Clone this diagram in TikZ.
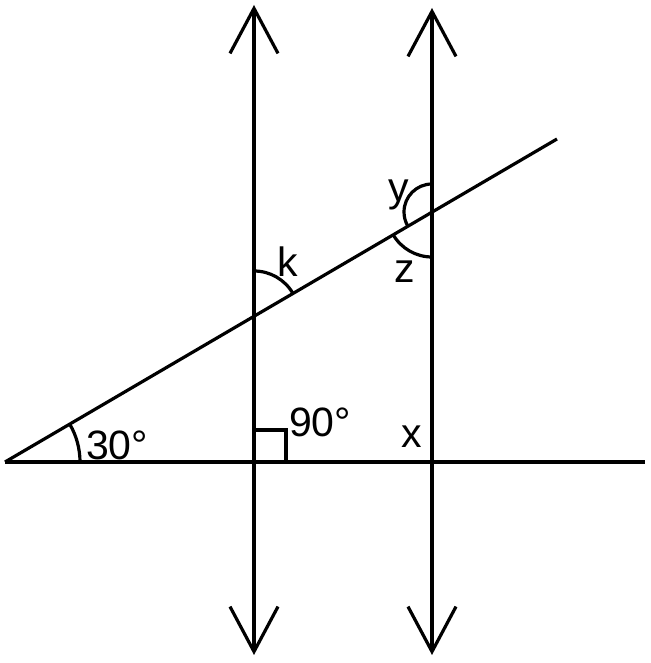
\documentclass[tikz,border=0pt]{standalone}
\usepackage{fontspec}
\setmainfont{Liberation Sans}
\usetikzlibrary{arrows.meta}

\begin{document}
\begin{tikzpicture}[x=0.5pt,y=0.5pt,
  line/.style={line width=1.6pt, black},
  arr/.style={line, {Straight Barb[length=22.5pt,width=24pt]}-{Straight Barb[length=22.5pt,width=24pt]}},
  lbl/.style={font=\fontsize{20.5}{23}\selectfont, inner sep=0pt}]
\useasboundingbox (0,0) rectangle (651,663);

\coordinate (O) at (5,201);
\coordinate (E) at (557,524);
\coordinate (H) at (645,201);
\coordinate (T1) at (254,658);
\coordinate (B1) at (254,8);
\coordinate (T2) at (432,655);
\coordinate (B2) at (432,8);
\coordinate (A) at (254,347);
\coordinate (B) at (432,451);
\coordinate (C) at (254,201);

\draw[line] (O) -- (H);
\draw[line] (O) -- (E);
\draw[arr] (B1) -- (T1);
\draw[arr] (B2) -- (T2);

% angle marks
\draw[line] ([shift={(75,0)}]O) arc[start angle=0, end angle=30, radius=75];
\draw[line] ([shift={(0,45)}]A) arc[start angle=90, end angle=30, radius=45];
\draw[line] ([shift={(0,28)}]B) arc[start angle=90, end angle=210, radius=28];
\draw[line] ([shift={(210:45)}]B) arc[start angle=210, end angle=270, radius=45];
\draw[line] ([shift={(0,32)}]C) -- ++(32,0) -- ++(0,-32);

\node[lbl] (a30) at (117,218) {30°};
\node[lbl] (a90) at (320,241) {90°};
\node[lbl] (ax) at (412,226) {x};
\node[lbl] (ak) at (288,401) {k};
\node[lbl] (ay) at (399,468) {y};
\node[lbl] (az) at (405,391) {z};
\end{tikzpicture}
\end{document}
